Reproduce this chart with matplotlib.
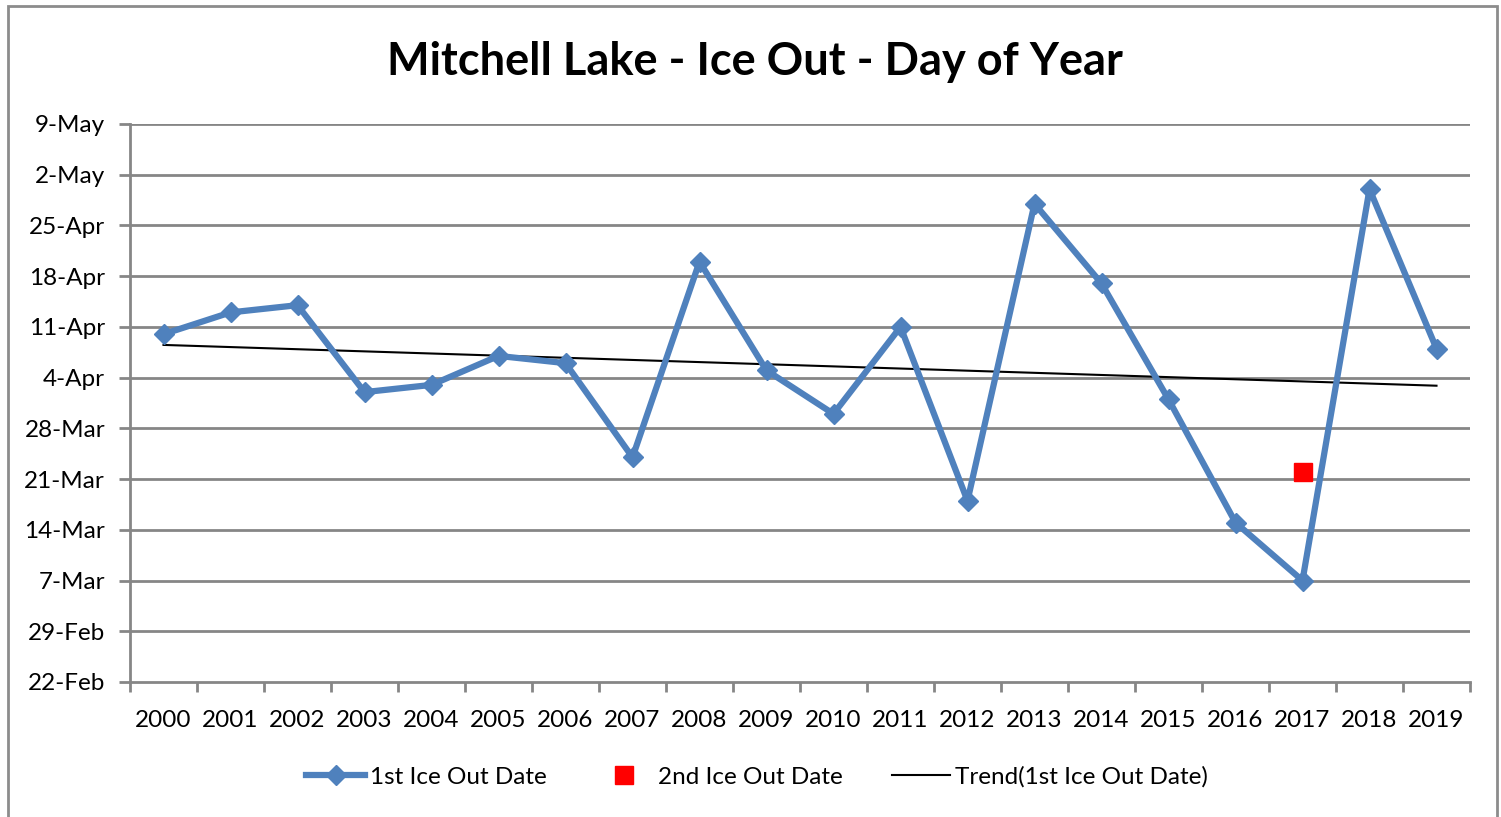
import numpy as np
import pandas as pd
import matplotlib.pyplot as plt
import matplotlib.dates as mdates
from matplotlib.patches import Rectangle

plt.rcParams['font.family'] = ['Lato', 'DejaVu Sans']

# ice out dates (axis uses a leap year, so put them in 2000)
years = [str(y) for y in range(2000, 2020)]
first_out = ['10-Apr', '13-Apr', '14-Apr', '2-Apr', '3-Apr', '7-Apr', '6-Apr',
             '24-Mar', '20-Apr', '5-Apr', '30-Mar', '11-Apr', '18-Mar', '28-Apr',
             '17-Apr', '1-Apr', '15-Mar', '7-Mar', '30-Apr', '8-Apr']
second_year = ['2017']
second_out = ['22-Mar']
y_ticks = ['22-Feb', '29-Feb', '7-Mar', '14-Mar', '21-Mar', '28-Mar', '4-Apr',
           '11-Apr', '18-Apr', '25-Apr', '2-May', '9-May']


def to_date(s):
    return pd.to_datetime([d + '-2000' for d in s], format='%d-%b-%Y')


x = np.arange(len(years))
y1 = mdates.date2num(to_date(first_out))
x2 = [years.index(y) for y in second_year]
y2 = mdates.date2num(to_date(second_out))
yt = mdates.date2num(to_date(y_ticks))

# linear trend of the first ice out date
coef = np.polyfit(x, y1, 1)
trend = np.polyval(coef, x)

fig = plt.figure(figsize=(15.01, 8.17), dpi=100)
ax = fig.add_axes([130 / 1501, 1 - 682 / 817, 1340 / 1501, 558 / 817])

grid_col = '#868686'
for t in yt[1:]:
    ax.axhline(t, color=grid_col, linewidth=2, zorder=1)

ax.plot(x, y1, color='#4F81BD', linewidth=4.5, marker='D', markersize=10,
        label='1st Ice Out Date', zorder=3)
ax.plot(x2, y2, linestyle='none', marker='s', markersize=13, color='#FF0000',
        label='2nd Ice Out Date', zorder=4)
ax.plot(x, trend, color='black', linewidth=1.5, label='Trend(1st Ice Out Date)',
        zorder=2)

ax.set_xlim(-0.5, len(years) - 0.5)
ax.set_ylim(yt[0], yt[-1])
ax.set_yticks(yt)
ax.set_yticklabels(y_ticks)
ax.set_xticks(np.arange(-0.5, len(years), 1.0))
ax.set_xticklabels([])
ax.set_xticks(x, minor=True)
ax.set_xticklabels(years, minor=True)
ax.tick_params(axis='x', which='minor', length=0, pad=20, labelsize=17.5)
ax.tick_params(axis='x', which='major', length=7, width=2, color=grid_col)
ax.tick_params(axis='y', length=8, width=2, color=grid_col, labelsize=17.5, pad=10)

for side in ['top', 'right']:
    ax.spines[side].set_visible(False)
for side in ['left', 'bottom']:
    ax.spines[side].set_color(grid_col)
    ax.spines[side].set_linewidth(2)

fig.text(755 / 1501, 1 - 62 / 817, 'Mitchell Lake - Ice Out - Day of Year',
         ha='center', va='center', fontsize=32.5, fontweight='bold')

fig.legend(loc='center', bbox_to_anchor=(757 / 1501, 1 - 777 / 817), ncol=3,
           frameon=False, fontsize=17.5, handlelength=2.4, columnspacing=2.0,
           handletextpad=0.2)

# outer chart border
fig.patches.append(Rectangle((8 / 1501, -0.01), 1489 / 1501, 1 - 6 / 817 + 0.01,
                             transform=fig.transFigure, fill=False,
                             edgecolor='#8c8c8c', linewidth=2))

plt.savefig('out.png', dpi=100)
